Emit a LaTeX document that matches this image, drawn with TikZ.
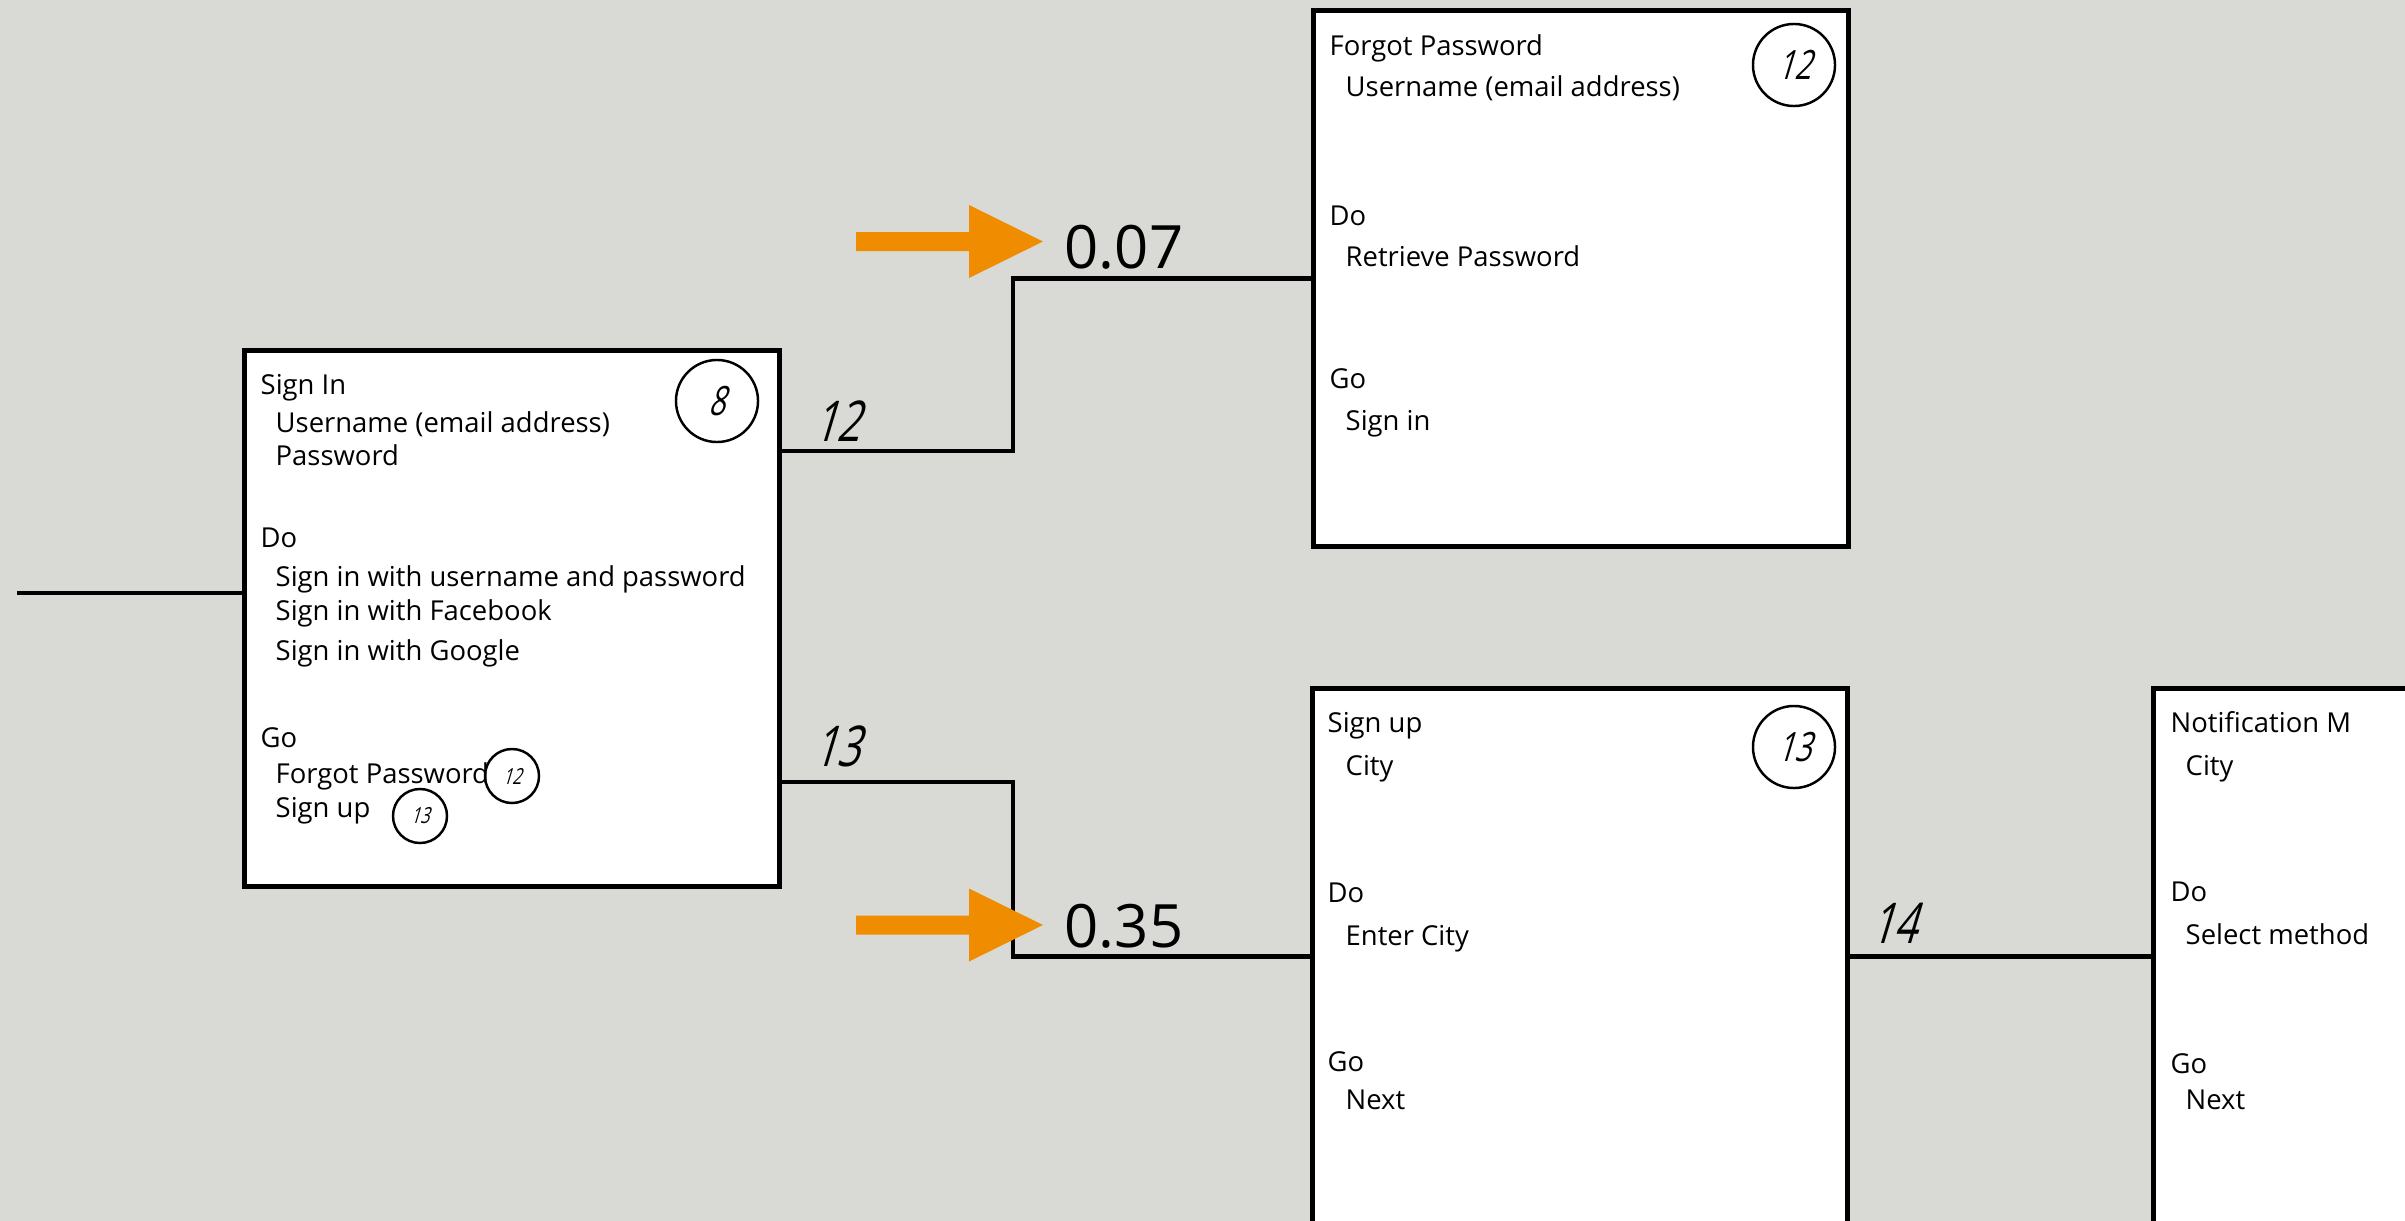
\documentclass[tikz,border=0pt]{standalone}
\usepackage{fontspec}
\setmainfont{Open Sans}
\newfontfamily\handit{Open Sans}[FakeSlant=0.3,FakeStretch=0.72]
\definecolor{bggray}{RGB}{217,218,213}
\definecolor{arroworange}{RGB}{240,140,0}

\begin{document}
\begin{tikzpicture}[x=0.01cm, y=-0.01cm]
  \useasboundingbox (0,0) rectangle (2405,1221);
  \clip (0,0) rectangle (2405,1221);
  \fill [bggray] (0,0) rectangle (2405,1221);  % Hintergrund.
  \tikzstyle{screen}=[draw, fill=white, line width=1.45pt, minimum width=5.34cm, minimum height=5.35cm, inner sep=0pt]
  \tikzstyle{heading}=[anchor=base west, inner sep=0pt, font=\fontsize{7.8}{9}\selectfont]
  \tikzstyle{field}=[anchor=base west, inner sep=0pt, font=\fontsize{7.8}{9}\selectfont]
  \tikzstyle{tag}=[circle, draw, line width=0.7pt, minimum size=0.82cm, inner sep=0pt, font=\handit\fontsize{11.5}{12}\selectfont]
  \tikzstyle{minitag}=[circle, draw, line width=0.7pt, minimum size=0.54cm, inner sep=0pt, font=\handit\fontsize{6.3}{7}\selectfont]
  \tikzstyle{wire}=[line width=1.35pt]
  \tikzstyle{flowlbl}=[anchor=base west, inner sep=0pt, font=\handit\fontsize{16}{18}\selectfont]
  \tikzstyle{rate}=[anchor=base west, inner sep=0pt, font=\fontsize{17}{20}\selectfont]
  \tikzset{pointer/.pic={
    \fill [arroworange] (0,0) -- (-74,-36.5) -- (-74,-9.5) -- (-187,-9.5)
      -- (-187,9.5) -- (-74,9.5) -- (-74,36.5) -- cycle;}}

  % Bildschirme
  \node[screen] (signin) at (512,618.5)  {};
  \node[screen] (forgot) at (1581,278.5) {};
  \node[screen] (signup) at (1580,956.5) {};
  \node[screen] (notif)  at (2421,956.5) {};

  % Sign In
  \node[heading] (si-t)  at (260,394) {Sign In};
  \node[field]   (si-f1) at (275,432) {Username (email address)};
  \node[field]   (si-f2) at (275,465) {Password};
  \node[heading] (si-do) at (260,547) {Do};
  \node[field]   (si-d1) at (275,586) {Sign in with username and password};
  \node[field]   (si-d2) at (275,620) {Sign in with Facebook};
  \node[field]   (si-d3) at (275,660) {Sign in with Google};
  \node[heading] (si-go) at (260,747) {Go};
  \node[field]   (si-g1) at (275,783) {Forgot Password};
  \node[field]   (si-g2) at (275,817) {Sign up};
  \node[tag]     (si-n)  at (717,401) {8};
  \node[minitag] (si-n1) at (512,776) {12};
  \node[minitag] (si-n2) at (420,816) {13};

  % Forgot Password
  \node[heading] (fp-t)  at (1329,55)  {Forgot Password};
  \node[field]   (fp-f1) at (1345,96)  {Username (email address)};
  \node[heading] (fp-do) at (1329,225) {Do};
  \node[field]   (fp-d1) at (1345,266) {Retrieve Password};
  \node[heading] (fp-go) at (1329,388) {Go};
  \node[field]   (fp-g1) at (1345,430) {Sign in};
  \node[tag]     (fp-n)  at (1794,65)  {12};

  % Sign up
  \node[heading] (su-t)  at (1327,732)  {Sign up};
  \node[field]   (su-f1) at (1345,775)  {City};
  \node[heading] (su-do) at (1327,902)  {Do};
  \node[field]   (su-d1) at (1345,945)  {Enter City};
  \node[heading] (su-go) at (1327,1071) {Go};
  \node[field]   (su-g1) at (1345,1109) {Next};
  \node[tag]     (su-n)  at (1794,747)  {13};

  % Notification
  \node[heading] (nm-t)  at (2170,732)  {Notification M};
  \node[field]   (nm-f1) at (2185,775)  {City};
  \node[heading] (nm-do) at (2170,901)  {Do};
  \node[field]   (nm-d1) at (2185,944)  {Select method};
  \node[heading] (nm-go) at (2170,1073) {Go};
  \node[field]   (nm-g1) at (2185,1109) {Next};

  % Verbindungen
  \coordinate (entry) at (17,593);
  \draw[wire] (entry) -- (entry -| signin.west);
  \draw[wire] (signin.east |- 0,451) -- (1013,451) |- (forgot.west);
  \draw[wire] (signin.east |- 0,782) -- (1013,782) |- (signup.west);
  \draw[wire] (signup) -- (notif);

  \node[flowlbl] (l12) at (813,441) {12};
  \node[flowlbl] (l13) at (813,766) {13};
  \node[flowlbl] (l14) at (1870,943) {14};

  \node[rate] (r07) at (1064,268) {0.07};
  \node[rate] (r35) at (1064,947) {0.35};
  \pic at (1043,241.5) {pointer};
  \pic at (1043,925) {pointer};
\end{tikzpicture}
\end{document}
